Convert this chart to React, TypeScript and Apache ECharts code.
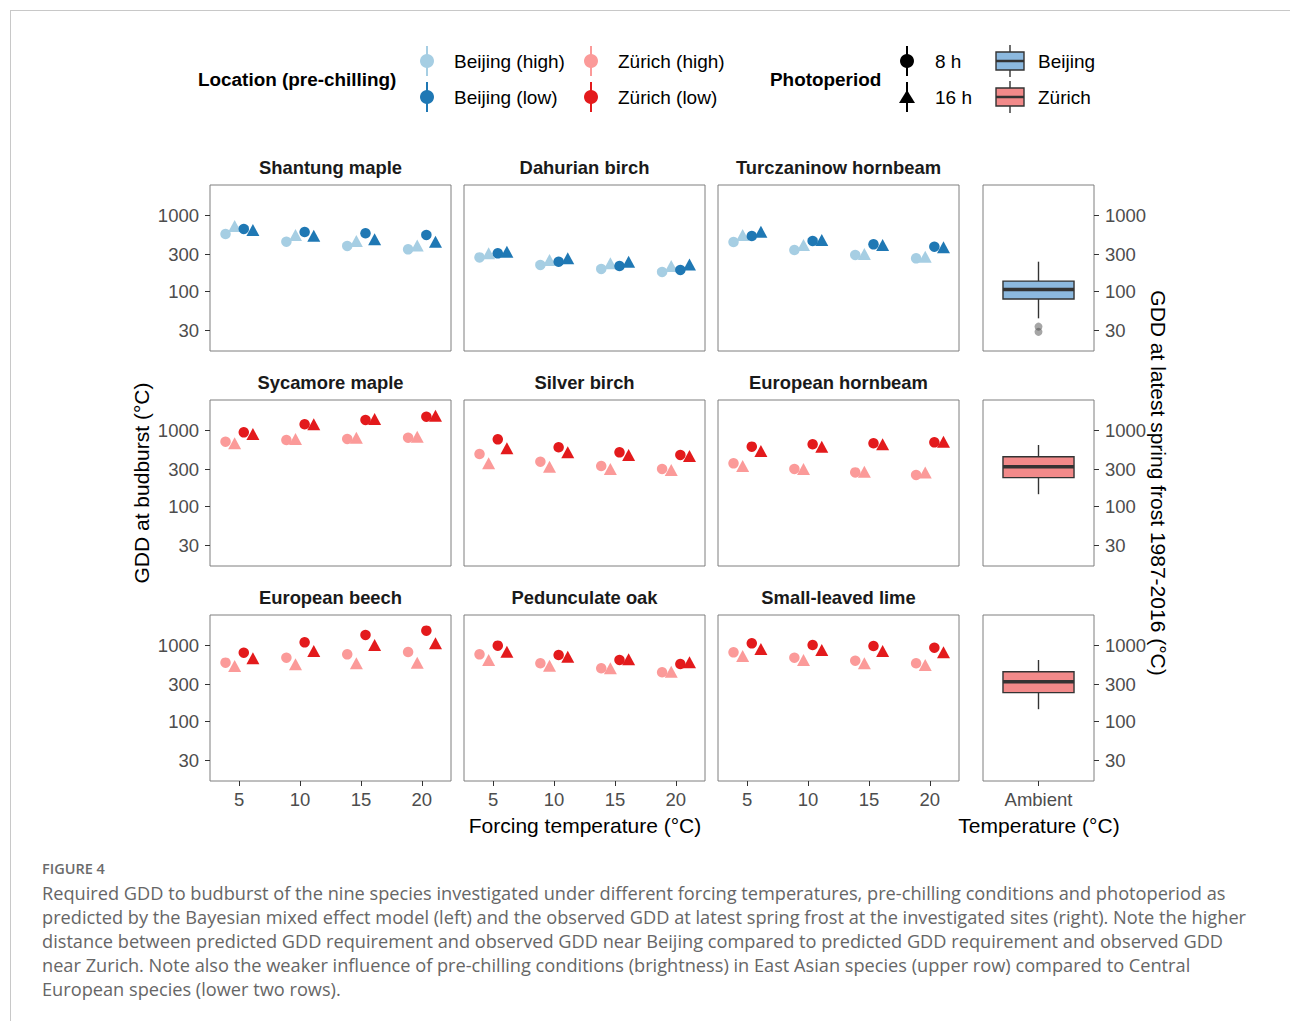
import React, { useEffect, useRef } from "react";
import * as echarts from "echarts";

// ---------- data ----------
const forcingTemps = [5, 10, 15, 20];
const yTickValues = [30, 100, 300, 1000];
const speciesNames = [
  "Shantung maple", "Dahurian birch", "Turczaninow hornbeam",
  "Sycamore maple", "Silver birch", "European hornbeam",
  "European beech", "Pedunculate oak", "Small-leaved lime",
];
const groupNames = ["high chilling, 8 h", "high chilling, 16 h", "low chilling, 8 h", "low chilling, 16 h"];

// rows: [high 8h, high 16h, low 8h, low 16h]; columns: forcing 5, 10, 15, 20 °C
const shantungMaple = [[562, 445, 391, 353], [716, 546, 455, 398], [655, 597, 574, 546], [635, 534, 479, 445]];
const dahurianBirch = [[277, 220, 195, 178], [313, 256, 231, 213], [313, 243, 213, 189], [329, 269, 243, 224]];
const turczaninowHornbeam = [[441, 346, 298, 269], [546, 403, 307, 283], [529, 455, 411, 383], [604, 469, 403, 376]];
const sycamoreMaple = [[702, 738, 762, 792], [668, 762, 792, 817], [931, 1189, 1355, 1496], [886, 1189, 1396, 1545]];
const silverBirch = [[483, 383, 336, 307], [364, 329, 307, 298], [753, 592, 508, 469], [574, 508, 469, 455]];
const europeanHornbeam = [[364, 307, 277, 256], [336, 307, 283, 277], [604, 648, 668, 688], [529, 604, 648, 702]];
const europeanBeech = [[586, 681, 753, 809], [529, 558, 574, 586], [792, 1084, 1355, 1545], [668, 834, 1000, 1052]];
const pedunculateOak = [[753, 574, 494, 437], [635, 534, 494, 445], [980, 738, 635, 562], [817, 702, 648, 592]];
const smallLeavedLime = [[801, 681, 622, 574], [716, 635, 574, 546], [1052, 1000, 970, 922], [886, 860, 834, 801]];

// [min, Q1, median, Q3, max]
const beijingFrostBox = [43.7, 78.5, 105, 135, 243];
const beijingFrostOutliers = [29, 34];
const zurichFrostBox = [143, 236, 329, 445, 635];
const frostCategories = ["Ambient"];

const captionLines = [
  "Required GDD to budburst of the nine species investigated under different forcing temperatures, pre-chilling conditions and photoperiod as",
  "predicted by the Bayesian mixed effect model (left) and the observed GDD at latest spring frost at the investigated sites (right). Note the higher",
  "distance between predicted GDD requirement and observed GDD near Beijing compared to predicted GDD requirement and observed GDD",
  "near Zurich. Note also the weaker influence of pre-chilling conditions (brightness) in East Asian species (upper row) compared to Central",
  "European species (lower two rows).",
];

// ---------- styling / layout ----------
const speciesData = [
  shantungMaple, dahurianBirch, turczaninowHornbeam,
  sycamoreMaple, silverBirch, europeanHornbeam,
  europeanBeech, pedunculateOak, smallLeavedLime,
];
const dodge = [-1.125, -0.375, 0.375, 1.125];
const beijingColors = ["#a6cee3", "#a6cee3", "#1f78b4", "#1f78b4"];
const zurichColors = ["#fb9a99", "#fb9a99", "#e31a1c", "#e31a1c"];
const FONT = "'Liberation Sans', Arial, sans-serif";
const colLefts = [210, 464, 718];
const panelW = 241;
const boxLeft = 983;
const boxW = 111;
const rowTops = [185, 400, 615];
const panelH = 166;
const yMin = 16.24;
const yMax = 2482;

function buildOption() {
  const grid: any[] = [];
  const xAxis: any[] = [];
  const yAxis: any[] = [];
  const series: any[] = [];
  const graphic: any[] = [];

  const tickLabelStyle = { color: "#4d4d4d", fontSize: 18.5, fontFamily: FONT };

  // species panels
  for (let i = 0; i < 9; i++) {
    const r = Math.floor(i / 3);
    const c = i % 3;
    grid.push({
      left: colLefts[c], top: rowTops[r], width: panelW, height: panelH,
      show: true, borderColor: "#7f7f7f", borderWidth: 1, backgroundColor: "#fff",
    });
    xAxis.push({
      type: "value", gridIndex: i, min: 2.6, max: 22.4,
      axisLine: { show: false }, splitLine: { show: false },
      axisTick: { show: r === 2, length: 5, lineStyle: { color: "#333" }, customValues: forcingTemps },
      axisLabel: { show: r === 2, margin: 9, ...tickLabelStyle, customValues: forcingTemps, formatter: (v: number) => String(Math.round(v)) },
    });
    yAxis.push({
      type: "log", gridIndex: i, min: yMin, max: yMax,
      axisLine: { show: false }, splitLine: { show: false }, minorTick: { show: false },
      axisTick: { show: c === 0, length: 5, lineStyle: { color: "#333" }, customValues: yTickValues },
      axisLabel: { show: c === 0, margin: 11, ...tickLabelStyle, customValues: yTickValues, formatter: (v: number) => String(Math.round(v)) },
    });
    const colors = r === 0 ? beijingColors : zurichColors;
    for (let g = 0; g < 4; g++) {
      const isCircle = g % 2 === 0;
      series.push({
        type: "scatter", name: speciesNames[i] + " " + groupNames[g],
        xAxisIndex: i, yAxisIndex: i,
        symbol: isCircle ? "circle" : "triangle",
        symbolSize: isCircle ? 10.5 : [13, 12],
        itemStyle: { color: colors[g], opacity: 1 },
        data: forcingTemps.map((t, k) => [t + dodge[g], speciesData[i][g][k]]),
        z: 2 + g,
      });
    }
    graphic.push({
      type: "text", x: colLefts[c] + panelW / 2, y: rowTops[r] - 18,
      style: { text: speciesNames[i], fill: "#1a1a1a", font: `bold 18.4px ${FONT}`, textAlign: "center", textVerticalAlign: "middle" },
    });
  }

  // frost boxplot panels
  const boxSets = [
    { box: beijingFrostBox, fill: "#8cb9df", outliers: beijingFrostOutliers },
    { box: zurichFrostBox, fill: "#f28a8a", outliers: [] as number[] },
    { box: zurichFrostBox, fill: "#f28a8a", outliers: [] as number[] },
  ];
  for (let r = 0; r < 3; r++) {
    const idx = 9 + r;
    grid.push({
      left: boxLeft, top: rowTops[r], width: boxW, height: panelH,
      show: true, borderColor: "#7f7f7f", borderWidth: 1, backgroundColor: "#fff",
    });
    xAxis.push({
      type: "category", gridIndex: idx, data: frostCategories, boundaryGap: true,
      axisLine: { show: false }, splitLine: { show: false },
      axisTick: { show: r === 2, alignWithLabel: true, length: 5, lineStyle: { color: "#333" } },
      axisLabel: { show: r === 2, margin: 9, ...tickLabelStyle },
    });
    yAxis.push({
      type: "log", gridIndex: idx, min: yMin, max: yMax, position: "right",
      axisLine: { show: false }, splitLine: { show: false }, minorTick: { show: false },
      axisTick: { show: true, length: 5, lineStyle: { color: "#333" }, customValues: yTickValues },
      axisLabel: { show: true, margin: 11, ...tickLabelStyle, customValues: yTickValues, formatter: (v: number) => String(Math.round(v)) },
    });
    const set = boxSets[r];
    series.push({
      type: "custom", xAxisIndex: idx, yAxisIndex: idx,
      encode: { x: 0, y: [1, 2, 3, 4, 5] },
      data: [[0, ...set.box]],
      renderItem: (params: any, api: any) => {
        const xi = api.value(0);
        const pMin = api.coord([xi, api.value(1)]);
        const pQ1 = api.coord([xi, api.value(2)]);
        const pMed = api.coord([xi, api.value(3)]);
        const pQ3 = api.coord([xi, api.value(4)]);
        const pMax = api.coord([xi, api.value(5)]);
        const band = api.size([1, 0])[0];
        const hw = band * 0.32;
        const cx = pMed[0];
        const stroke = "#333333";
        return {
          type: "group",
          children: [
            { type: "line", shape: { x1: cx, y1: pMax[1], x2: cx, y2: pQ3[1] }, style: { stroke, lineWidth: 1.4 } },
            { type: "line", shape: { x1: cx, y1: pQ1[1], x2: cx, y2: pMin[1] }, style: { stroke, lineWidth: 1.4 } },
            { type: "rect", shape: { x: cx - hw, y: pQ3[1], width: hw * 2, height: pQ1[1] - pQ3[1] }, style: { fill: set.fill, stroke, lineWidth: 1.4 } },
            { type: "line", shape: { x1: cx - hw, y1: pMed[1], x2: cx + hw, y2: pMed[1] }, style: { stroke, lineWidth: 3.5 } },
          ],
        };
      },
    });
    if (set.outliers.length) {
      series.push({
        type: "scatter", xAxisIndex: idx, yAxisIndex: idx,
        symbol: "circle", symbolSize: 8,
        itemStyle: { color: "rgba(70,70,70,0.6)" },
        data: set.outliers.map((v) => [0, v]),
      });
    }
  }

  // axis titles
  const titleFont = `21px ${FONT}`;
  graphic.push(
    { type: "text", x: 141, y: 483, rotation: Math.PI / 2,
      style: { text: "GDD at budburst (°C)", fill: "#000", font: titleFont, textAlign: "center", textVerticalAlign: "middle" } },
    { type: "text", x: 1158, y: 483, rotation: -Math.PI / 2,
      style: { text: "GDD at latest spring frost 1987-2016 (°C)", fill: "#000", font: titleFont, textAlign: "center", textVerticalAlign: "middle" } },
    { type: "text", x: 585, y: 825,
      style: { text: "Forcing temperature (°C)", fill: "#000", font: titleFont, textAlign: "center", textVerticalAlign: "middle" } },
    { type: "text", x: 1039, y: 825,
      style: { text: "Temperature (°C)", fill: "#000", font: titleFont, textAlign: "center", textVerticalAlign: "middle" } },
  );

  // legend
  const legText = (text: string, x: number, y: number, bold = false) => ({
    type: "text", x, y,
    style: { text, fill: "#000", font: `${bold ? "bold 18.9px" : "19px"} ${FONT}`, textAlign: "left", textVerticalAlign: "middle" },
  });
  const pointRangeKey = (x: number, y: number, color: string, tri = false) => [
    { type: "line", shape: { x1: x, y1: y - 15, x2: x, y2: y + 15 }, style: { stroke: color, lineWidth: 2 } },
    tri
      ? { type: "polygon", shape: { points: [[x, y - 7], [x - 8, y + 6], [x + 8, y + 6]] }, style: { fill: color } }
      : { type: "circle", shape: { cx: x, cy: y, r: 7 }, style: { fill: color } },
  ];
  const boxKey = (x: number, y: number, fill: string) => [
    { type: "line", shape: { x1: x, y1: y - 16, x2: x, y2: y + 16 }, style: { stroke: "#333", lineWidth: 1.4 } },
    { type: "rect", shape: { x: x - 14, y: y - 9, width: 28, height: 18 }, style: { fill, stroke: "#333", lineWidth: 1.4 } },
    { type: "line", shape: { x1: x - 14, y1: y, x2: x + 14, y2: y }, style: { stroke: "#333", lineWidth: 2.5 } },
  ];
  graphic.push(
    legText("Location (pre-chilling)", 198, 79, true),
    ...pointRangeKey(427, 61, "#a6cee3"),
    ...pointRangeKey(427, 97, "#1f78b4"),
    ...pointRangeKey(591, 61, "#fb9a99"),
    ...pointRangeKey(591, 97, "#e31a1c"),
    legText("Beijing (high)", 454, 61),
    legText("Beijing (low)", 454, 97),
    legText("Zürich (high)", 618, 61),
    legText("Zürich (low)", 618, 97),
    legText("Photoperiod", 770, 79, true),
    ...pointRangeKey(907, 61, "#000"),
    ...pointRangeKey(907, 97, "#000", true),
    legText("8 h", 935, 61),
    legText("16 h", 935, 97),
    ...boxKey(1010, 61, "#8cb9df"),
    ...boxKey(1010, 97, "#f28a8a"),
    legText("Beijing", 1038, 61),
    legText("Zürich", 1038, 97),
  );

  // frame + caption
  graphic.push(
    { type: "line", shape: { x1: 10, y1: 10.5, x2: 1290, y2: 10.5 }, style: { stroke: "#c8c8c8", lineWidth: 1 } },
    { type: "line", shape: { x1: 10.5, y1: 10, x2: 10.5, y2: 1021 }, style: { stroke: "#c8c8c8", lineWidth: 1 } },
    { type: "text", x: 42, y: 868,
      style: { text: "FIGURE 4", fill: "#6b6b6b", font: `600 14.5px 'Open Sans', sans-serif`, textAlign: "left", textVerticalAlign: "middle" } },
  );
  captionLines.forEach((line, k) => {
    graphic.push({
      type: "text", x: 42, y: 893 + k * 24,
      style: { text: line, fill: "#666666", font: `18.2px 'Open Sans', sans-serif`, textAlign: "left", textVerticalAlign: "middle" },
    });
  });

  return {
    animation: false,
    backgroundColor: "#fff",
    grid, xAxis, yAxis, series, graphic,
  };
}

export default function App() {
  const ref = useRef<HTMLDivElement>(null);
  useEffect(() => {
    if (!ref.current) return;
    const chart = echarts.init(ref.current, null, { renderer: "svg" });
    chart.setOption(buildOption() as any);
    return () => chart.dispose();
  }, []);
  return (
    <div
      ref={ref}
      style={{ position: "fixed", left: 0, top: 0, width: 1290, height: 1021, background: "#fff" }}
    />
  );
}
